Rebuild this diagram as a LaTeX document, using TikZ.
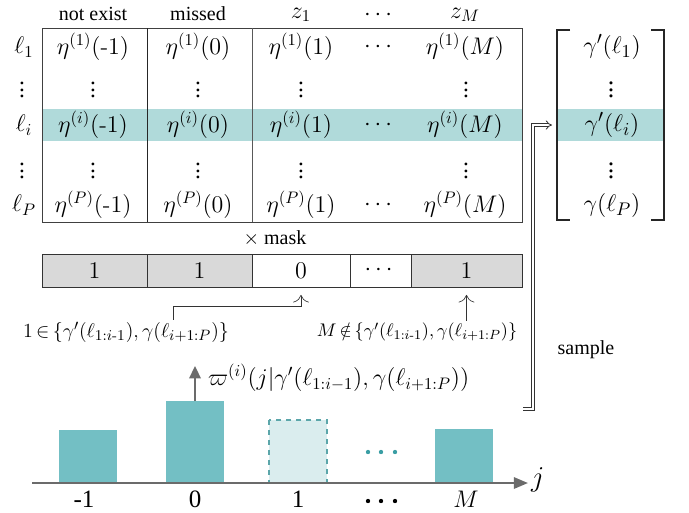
\documentclass[tikz,border=0pt]{standalone}
\usepackage{amsmath}
\usepackage{amssymb}
\usepackage[no-math]{fontspec}
\setmainfont{Liberation Serif}
\usetikzlibrary{arrows.meta}
\usepackage[usenames]{xcolor}

\definecolor{bandteal}{HTML}{B0DADA}
\definecolor{barteal}{HTML}{73BFC4}
\definecolor{ghostteal}{HTML}{DAEDEE}
\definecolor{edgeteal}{HTML}{5BA6AA}
\definecolor{dotteal}{HTML}{3A9EA4}
\definecolor{maskgray}{HTML}{D9D9D9}
\definecolor{axisgray}{HTML}{6B6B6B}

\newcommand{\hy}{\text{\fontfamily{lmr}\selectfont -}}

\tikzset{
  cell/.style={font=\fontsize{14}{16}\selectfont, inner sep=1pt},
  vec/.style={font=\fontsize{15.5}{18}\selectfont, inner sep=1pt},
  head/.style={font=\fontsize{12}{14}\selectfont, inner sep=1pt},
  tick/.style={font=\fontsize{15}{18}\selectfont, inner sep=1pt, anchor=base},
  maskcell/.style={draw=black!80, line width=0.5pt, minimum height=19.8pt,
      inner sep=0pt, font=\fontsize{13.5}{15}\selectfont},
  maskarrow/.style={black!80, line width=0.4pt, -{To[length=1.6mm]}},
  bracket/.style={line width=1.4pt, black!85}
}

\begin{document}
\begin{tikzpicture}[x=0.6pt, y=-0.6pt]
\useasboundingbox (0,0) rectangle (689,512);

% ---- score table ----
\fill[bandteal] (42,109) rectangle (522,141);
\draw[black!75, line width=0.6pt] (42,28) rectangle (522,222);
\draw[black!85, line width=0.6pt] (147,28) -- (147,222);
\draw[black!65, line width=0.6pt] (252,28) -- (252,222);

\node[head] (hd-a) at (93,14) {not exist};
\node[head] (hd-b) at (198,14) {missed};
\node[cell] (hd-c) at (301,15) {$z_1$};
\node[cell] (hd-d) at (380,15) {$\cdots$};
\node[cell] (hd-e) at (465,15) {$z_M$};

\foreach \r/\y in {1/47, i/125, P/205} {
  \node[cell] (row-\r) at (24,\y) {$\ell_\r$};
  \node[cell] (eta-\r-a) at (93,\y) {$\eta^{(\r)}(\hy1)$};
  \node[cell] (eta-\r-b) at (198,\y) {$\eta^{(\r)}(0)$};
  \node[cell] (eta-\r-c) at (301,\y) {$\eta^{(\r)}(1)$};
  \node[cell] (eta-\r-d) at (380,\y) {$\cdots$};
  \node[cell] (eta-\r-e) at (465,\y) {$\eta^{(\r)}(M)$};
}
\foreach \k/\y in {u/85, l/166} {
  \foreach \c/\x in {row/22, a/93, b/198, c/301, e/466} {
    \node[cell] (vd-\k-\c) at (\x,\y) {$\vdots$};
  }
}

% ---- sampled vector ----
\fill[bandteal] (557,109) rectangle (664,141);
\draw[bracket] (570,30) -| (557,220) -- (570,220);
\draw[bracket] (651,30) -| (664,220) -- (651,220);
\node[vec] (gam-1) at (612,47) {$\gamma'(\ell_1)$};
\node[vec] (gam-u) at (611,85) {$\vdots$};
\node[vec] (gam-i) at (612,125) {$\gamma'(\ell_i)$};
\node[vec] (gam-l) at (611,166) {$\vdots$};
\node[vec] (gam-P) at (612,205) {$\gamma(\ell_P)$};

% ---- mask row ----
\node[head] (mask-lab) at (275,238) {$\times$ mask};
\node[maskcell, fill=maskgray, minimum width=63pt] (mask-a) at (94.5,270.5) {$1$};
\node[maskcell, fill=maskgray, minimum width=63pt] (mask-b) at (199.5,270.5) {$1$};
\node[maskcell, fill=white, minimum width=58.8pt] (mask-c) at (301,270.5) {$0$};
\node[maskcell, fill=white, minimum width=36.6pt] (mask-d) at (380.5,270.5) {$\cdots$};
\node[maskcell, fill=maskgray, minimum width=66.6pt] (mask-e) at (466.5,270.5) {$1$};

\node[font=\fontsize{12.5}{15}\selectfont, inner sep=1pt] (in-lab) at (126,332)
    {$1\,{\in}\,\{\gamma'(\ell_{1:i\hy1}),\gamma(\ell_{i+1:P})\}$};
\node[font=\fontsize{10.8}{13}\selectfont, inner sep=1pt] (notin-lab) at (417,332)
    {$M\,{\notin}\,\{\gamma'(\ell_{1:i\hy1}),\gamma(\ell_{i+1:P})\}$};
\draw[maskarrow] ([xshift=28.2pt]in-lab.north) -- ++(0,-13)
    -| ([yshift=-4.5pt]mask-c.south);
\draw[maskarrow] (notin-lab.north -| mask-e.south) -- ([yshift=-4.5pt]mask-e.south);

% ---- distribution over j ----
\fill[barteal] (59,430) rectangle (117,483);
\fill[barteal] (166,401) rectangle (224,483);
\filldraw[fill=ghostteal, draw=edgeteal, dashed, line width=0.7pt] (269,420) rectangle (327,483);
\fill[barteal] (435,429) rectangle (493,483);
\foreach \x in {368,381,395} {
  \fill[dotteal] (\x,452) circle (1.3pt);
  \fill[black] (\x,501) circle (1.3pt);
}

\coordinate (axis-start) at (32,483);
\coordinate (axis-end) at (528,483);
\draw[axisgray, line width=1.3pt, -{Triangle[length=3mm, width=2.4mm]}] (axis-start) -- (axis-end);
\node[font=\fontsize{18}{20}\selectfont, anchor=west, inner sep=1pt] (j-lab) at (529,480) {$j$};

\node[tick] (tk-a) at (84,507) {-1};
\node[tick] (tk-b) at (195,507) {0};
\node[tick] (tk-c) at (298,507) {1};
\node[tick] (tk-e) at (466,507) {$M$};

\coordinate (bar0-top) at (195,401);
\coordinate (pmf-tip) at (195,366);
\draw[axisgray, line width=1.3pt, -{Triangle[length=2.6mm, width=2.4mm]}] (bar0-top) -- (pmf-tip);
\node[font=\fontsize{14.3}{16}\selectfont, anchor=west, inner sep=1pt] (pmf-lab) at (206,378)
    {$\varpi^{(i)}(j|\gamma'(\ell_{1:i-1}),\gamma(\ell_{i+1:P}))$};

% ---- sampling back into the vector ----
\coordinate (sample-from) at (523,409);
\coordinate (vec-in) at (552,125);
\draw[black!80, line width=0.5pt, double=white, double distance=1.4pt, -{Implies[scale=1.2]}]
    (sample-from) -- ++(10,0) |- (vec-in);
\node[head] (sample-lab) at (586,350) {sample};

\end{tikzpicture}
\end{document}
